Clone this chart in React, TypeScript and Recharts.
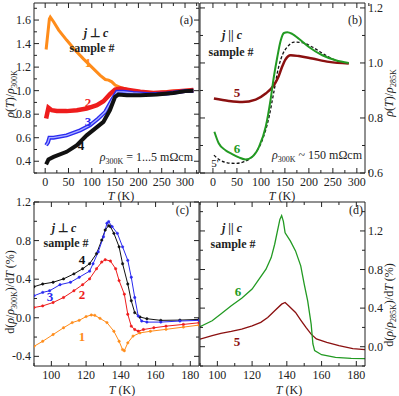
import React from 'react';
import { LineChart, Line, XAxis, YAxis } from 'recharts';

const W = 399;
const H = 396;
const FONT = '"Liberation Serif", "Times New Roman", serif';
const INK = '#222';

const ORANGE = '#ff8c1a';
const RED = '#ee1c1c';
const BLUE = '#2a2af0';
const BLACK = '#111111';
const GREEN = '#229a22';
const DARKRED = '#8b1010';

// (a) rho(T)/rho300K, j perp c
const aT1 = [2, 9, 11, 18, 29, 46, 64, 82, 100, 118, 129, 136, 143, 150, 161, 182, 204, 225, 246, 275, 300, 318];
const aR1 = [1.35, 1.61, 1.625, 1.586, 1.515, 1.43, 1.345, 1.27, 1.2, 1.13, 1.095, 1.09, 1.075, 1.047, 1.027, 1.004, 0.99, 0.984, 0.987, 0.996, 1.0, 1.005];
const aT2 = [2, 7, 14, 25, 46, 68, 89, 111, 125, 139, 150, 161, 182, 204, 232, 261, 300, 318];
const aR2 = [0.763, 0.855, 0.834, 0.828, 0.826, 0.834, 0.848, 0.877, 0.91, 0.97, 1.01, 1.018, 1.004, 0.99, 0.98, 0.987, 1.0, 1.005];
const aT3 = [2, 6, 9, 18, 46, 75, 96, 114, 129, 143, 154, 168, 189, 225, 261, 300, 318];
const aR3 = [0.536, 0.56, 0.6, 0.6, 0.62, 0.663, 0.706, 0.763, 0.82, 0.92, 0.99, 0.99, 0.98, 0.97, 0.976, 0.996, 1.0];
const aT4 = [2, 7, 18, 46, 68, 89, 111, 125, 139, 150, 157, 175, 204, 239, 275, 300, 318];
const aR4 = [0.374, 0.414, 0.437, 0.48, 0.536, 0.62, 0.69, 0.735, 0.834, 0.947, 0.967, 0.96, 0.96, 0.967, 0.98, 0.996, 1.0];

// (b) rho(T)/rho285K, j || c
const bT5 = [2, 33, 61, 89, 110, 127, 137, 144, 151, 162, 179, 207, 242, 283];
const bR5 = [0.871, 0.862, 0.858, 0.867, 0.889, 0.919, 0.952, 0.985, 1.012, 1.028, 1.025, 1.016, 1.004, 0.998];
const bT6 = [3, 12, 26, 40, 54, 68, 82, 96, 110, 120, 127, 134, 141, 148, 155, 165, 179, 200, 228, 256, 283];
const bR6 = [0.75, 0.708, 0.683, 0.669, 0.657, 0.649, 0.659, 0.695, 0.768, 0.865, 0.95, 1.02, 1.08, 1.109, 1.112, 1.106, 1.088, 1.058, 1.028, 1.01, 1.0];
const bT5p = [2, 12, 30, 47, 65, 85, 103, 117, 127, 137, 146, 155, 169, 186, 207, 235, 259, 283];
const bR5p = [0.665, 0.65, 0.637, 0.635, 0.641, 0.665, 0.72, 0.804, 0.895, 0.986, 1.034, 1.058, 1.076, 1.074, 1.058, 1.028, 1.007, 0.998];

// (c) d(rho/rho300K)/dT (%), j perp c
const cT1 = [90, 95, 101, 107, 112, 116, 120, 123, 125, 128, 132, 136, 139, 141, 142, 144, 147, 151, 157, 166, 176, 185];
const cD1 = [-0.296, -0.244, -0.174, -0.104, -0.05, -0.027, 0.012, 0.029, 0.025, -0.006, -0.05, -0.14, -0.244, -0.33, -0.342, -0.26, -0.19, -0.157, -0.14, -0.12, -0.097, -0.076];
const cT2 = [90, 95, 101, 107, 113, 118, 122, 126, 129, 131, 134, 137, 139, 142, 144, 146, 148, 150, 153, 159, 166, 176, 185];
const cD2 = [0.106, 0.123, 0.158, 0.21, 0.28, 0.343, 0.403, 0.508, 0.578, 0.602, 0.588, 0.508, 0.385, 0.245, 0.036, -0.087, -0.122, -0.139, -0.122, -0.104, -0.087, -0.069, -0.052];
const cT3 = [90, 95, 99, 105, 111, 116, 122, 124, 127, 130, 132, 133, 135, 138, 141, 144, 146, 148, 150, 152, 155, 163, 174, 185];
const cD3 = [0.228, 0.263, 0.28, 0.343, 0.368, 0.42, 0.483, 0.56, 0.683, 0.84, 0.98, 0.997, 0.945, 0.875, 0.735, 0.595, 0.42, 0.21, 0.018, -0.034, -0.045, -0.045, -0.034, -0.027];
const cT4 = [90, 95, 101, 107, 113, 118, 122, 126, 129, 131, 133, 134, 136, 139, 141, 144, 146, 148, 151, 155, 163, 174, 185];
const cD4 = [0.322, 0.35, 0.368, 0.403, 0.455, 0.508, 0.56, 0.665, 0.805, 0.91, 0.955, 0.945, 0.875, 0.735, 0.56, 0.35, 0.176, 0.053, 0.008, -0.01, -0.027, -0.024, -0.017];

// (d) d(rho/rho285K)/dT (%), j || c
const dT6 = [90, 97, 102, 108, 114, 120, 124, 128, 131, 133, 135, 136, 137, 138, 139, 142, 145, 148, 150, 152, 154, 155, 156, 160, 168, 177, 185];
const dD6 = [0.207, 0.269, 0.338, 0.424, 0.503, 0.597, 0.7, 0.803, 0.924, 1.062, 1.234, 1.32, 1.36, 1.3, 1.18, 1.097, 0.993, 0.838, 0.648, 0.476, 0.234, 0.028, -0.041, -0.083, -0.11, -0.121, -0.124];
const dT5 = [90, 97, 102, 108, 114, 120, 125, 129, 133, 137, 139, 141, 145, 148, 151, 154, 157, 163, 170, 178, 185];
const dD5 = [0.079, 0.114, 0.138, 0.159, 0.183, 0.217, 0.252, 0.303, 0.372, 0.441, 0.459, 0.424, 0.355, 0.276, 0.2, 0.13, 0.08, 0.045, 0.01, -0.02, -0.03];

// ticks
const aXTicks = [0, 25, 50, 75, 100, 125, 150, 175, 200, 225, 250, 275, 300, 325];
const aXLabels = [0, 50, 100, 150, 200, 250, 300];
const aYTicks = [0.3, 0.4, 0.5, 0.6, 0.7, 0.8, 0.9, 1.0, 1.1, 1.2, 1.3, 1.4, 1.5, 1.6, 1.7];
const aYLabels = [0.4, 0.6, 0.8, 1.0, 1.2, 1.4, 1.6];
const bYTicks = [0.6, 0.7, 0.8, 0.9, 1.0, 1.1, 1.2];
const bYLabels = [0.6, 0.8, 1.0, 1.2];
const cXTicks = [90, 100, 110, 120, 130, 140, 150, 160, 170, 180];
const cXLabels = [100, 120, 140, 160, 180];
const cYTicks = [-0.4, -0.2, 0.0, 0.2, 0.4, 0.6, 0.8, 1.0, 1.2];
const cYLabels = [-0.4, 0.0, 0.4, 0.8, 1.2];
const dYTicks = [-0.2, 0.0, 0.2, 0.4, 0.6, 0.8, 1.0, 1.2, 1.4];
const dYLabels = [0.0, 0.4, 0.8, 1.2];

const pts = (xs: number[], ys: number[]) => xs.map((x, i) => ({ x, y: ys[i] }));

type Box = { l: number; r: number; t: number; b: number };
type S = { data: { x: number; y: number }[]; color: string; width: number; dash?: string; dot?: number; type?: 'linear' | 'monotone' };

const tickText = { fontFamily: FONT, fontSize: 12, fill: INK };

function Panel(props: {
  box: Box; xDomain: number[]; yDomain: number[];
  xTicks: number[]; xLabels: number[]; yTicks: number[]; yLabels: number[];
  ySide: 'left' | 'right'; series: S[];
}) {
  const { box, xDomain, yDomain, xTicks, xLabels, yTicks, yLabels, ySide, series } = props;
  const has = (arr: number[], v: number) => arr.some((a) => Math.abs(a - v) < 1e-6);

  const xTick = (edge: number, dir: number, label: boolean) => (p: any) => {
    const v = p.payload.value;
    const major = has(xLabels, v);
    const len = major ? 5 : 3;
    return (
      <g>
        <line x1={p.x} x2={p.x} y1={edge} y2={edge - dir * len} stroke={INK} strokeWidth={1} />
        {label && major && (
          <text x={p.x} y={edge + 12.5} textAnchor="middle" {...tickText}>{String(v)}</text>
        )}
      </g>
    );
  };
  const yTick = (edge: number, dir: number, label: boolean) => (p: any) => {
    const v = p.payload.value;
    const major = has(yLabels, v);
    const len = major ? 5 : 3;
    return (
      <g>
        <line x1={edge} x2={edge + dir * len} y1={p.y} y2={p.y} stroke={INK} strokeWidth={1} />
        {label && major && (
          <text x={edge - dir * 3} y={p.y + 4} textAnchor={dir > 0 ? 'end' : 'start'} {...tickText}>
            {v.toFixed(1)}
          </text>
        )}
      </g>
    );
  };

  return (
    <div style={{ position: 'absolute', left: 0, top: 0 }}>
      <LineChart width={W} height={H} margin={{ top: 0, right: 0, bottom: 0, left: 0 }}>
        <XAxis xAxisId="b" type="number" dataKey="x" domain={xDomain} allowDataOverflow ticks={xTicks}
          interval={0} height={H - box.b} axisLine={{ stroke: INK }} tickLine={false} tick={xTick(box.b, 1, true)} />
        <XAxis xAxisId="t" orientation="top" type="number" dataKey="x" domain={xDomain} allowDataOverflow ticks={xTicks}
          interval={0} height={box.t} axisLine={{ stroke: INK }} tickLine={false} tick={xTick(box.t, -1, false)} />
        <YAxis yAxisId="l" type="number" domain={yDomain} allowDataOverflow ticks={yTicks} interval={0}
          width={box.l} axisLine={{ stroke: INK }} tickLine={false} tick={yTick(box.l, 1, ySide === 'left')} />
        <YAxis yAxisId="r" orientation="right" type="number" domain={yDomain} allowDataOverflow ticks={yTicks}
          interval={0} width={W - box.r} axisLine={{ stroke: INK }} tickLine={false} tick={yTick(box.r, -1, ySide === 'right')} />
        {series.map((s, i) => (
          <Line key={i} xAxisId="b" yAxisId="l" data={s.data} dataKey="y" type={s.type || 'monotone'}
            stroke={s.color} strokeWidth={s.width} strokeDasharray={s.dash}
            dot={s.dot ? { r: s.dot, fill: s.color, stroke: s.color, strokeWidth: 0.5 } : false}
            isAnimationActive={false} />
        ))}
      </LineChart>
    </div>
  );
}

const it = { fontStyle: 'italic' as const };

function Overlay() {
  const base = { fontFamily: FONT, fill: INK };
  const num = (x: number, y: number, c: string, t: string) => (
    <text x={x} y={y} textAnchor="middle" fontSize={13} fontWeight="bold" fill={c} fontFamily={FONT}>{t}</text>
  );
  return (
    <svg width={W} height={H} style={{ position: 'absolute', left: 0, top: 0, pointerEvents: 'none' }}>
      <g {...base} fontSize={12}>
        {/* axis titles */}
        <text x={121} y={199.5} textAnchor="middle"><tspan {...it}>T</tspan> (K)</text>
        <text x={282} y={199.5} textAnchor="middle"><tspan {...it}>T</tspan> (K)</text>
        <text x={122} y={393.5} textAnchor="middle"><tspan {...it}>T</tspan> (K)</text>
        <text x={289} y={393.5} textAnchor="middle"><tspan {...it}>T</tspan> (K)</text>

        <text transform="translate(14,94) rotate(-90)" textAnchor="middle">
          <tspan {...it}>ρ</tspan>(<tspan {...it}>T</tspan>)/<tspan {...it}>ρ</tspan>
          <tspan fontSize={8} dy={3}>300K</tspan>
        </text>
        <text transform="translate(14,292) rotate(-90)" textAnchor="middle">
          d(<tspan {...it}>ρ</tspan>/<tspan {...it}>ρ</tspan><tspan fontSize={8} dy={3}>300K</tspan>
          <tspan dy={-3}>)/d</tspan><tspan {...it}>T</tspan> (%)
        </text>
        <text transform="translate(393,93) rotate(-90)" textAnchor="middle">
          <tspan {...it}>ρ</tspan>(<tspan {...it}>T</tspan>)/<tspan {...it}>ρ</tspan>
          <tspan fontSize={8} dy={3}>285K</tspan>
        </text>
        <text transform="translate(393,305) rotate(-90)" textAnchor="middle">
          d(<tspan {...it}>ρ</tspan>/<tspan {...it}>ρ</tspan><tspan fontSize={8} dy={3}>285K</tspan>
          <tspan dy={-3}>)/d</tspan><tspan {...it}>T</tspan> (%)
        </text>

        {/* panel letters */}
        <text x={193} y={24} textAnchor="end">(a)</text>
        <text x={362} y={24} textAnchor="end">(b)</text>
        <text x={189} y={214} textAnchor="end">(c)</text>
        <text x={363} y={214} textAnchor="end">(d)</text>

        {/* headers */}
        <g fontWeight="bold">
          <text x={96} y={37} textAnchor="middle"><tspan {...it}>j</tspan> ⊥ <tspan {...it}>c</tspan></text>
          <text x={92} y={52} textAnchor="middle">sample #</text>
          <text x={232} y={39} textAnchor="middle"><tspan {...it}>j</tspan> || <tspan {...it}>c</tspan></text>
          <text x={231} y={56} textAnchor="middle">sample #</text>
          <text x={64} y={232} textAnchor="middle"><tspan {...it}>j</tspan> ⊥ <tspan {...it}>c</tspan></text>
          <text x={66} y={247} textAnchor="middle">sample #</text>
          <text x={232} y={232} textAnchor="middle"><tspan {...it}>j</tspan> || <tspan {...it}>c</tspan></text>
          <text x={233} y={248} textAnchor="middle">sample #</text>
        </g>

        <text x={193} y={161} textAnchor="end">
          <tspan {...it}>ρ</tspan><tspan fontSize={8} dy={3}>300K</tspan><tspan dy={-3}> = 1...5 mΩcm</tspan>
        </text>
        <text x={362} y={159} textAnchor="end">
          <tspan {...it}>ρ</tspan><tspan fontSize={8} dy={3}>300K</tspan><tspan dy={-3}> ~ 150 mΩcm</tspan>
        </text>
      </g>

      {num(88, 67, ORANGE, '1')}
      {num(88, 107, RED, '2')}
      {num(88, 126, BLUE, '3')}
      {num(81, 150, BLACK, '4')}
      {num(237, 97, DARKRED, '5')}
      {num(237, 153, GREEN, '6')}
      <text x={215} y={167} textAnchor="middle" fontSize={11} fill={BLACK} fontFamily={FONT}>5'</text>
      {num(82, 264, BLACK, '4')}
      {num(50, 301, BLUE, '3')}
      {num(82, 299, RED, '2')}
      {num(82, 341, ORANGE, '1')}
      {num(238, 296, GREEN, '6')}
      {num(237, 346, DARKRED, '5')}
    </svg>
  );
}

export default function App() {
  return (
    <div style={{ position: 'absolute', left: 0, top: 0, width: W, height: H, background: '#fff' }}>
      <Panel box={{ l: 34, r: 199, t: 3, b: 173 }} xDomain={[-24, 330]} yDomain={[0.3, 1.745]}
        xTicks={aXTicks} xLabels={aXLabels} yTicks={aYTicks} yLabels={aYLabels} ySide="left"
        series={[
          { data: pts(aT1, aR1), color: ORANGE, width: 3, type: 'linear' },
          { data: pts(aT2, aR2), color: RED, width: 4.5, type: 'linear' },
          { data: pts(aT3, aR3), color: BLUE, width: 4, type: 'linear' },
          { data: pts(aT3, aR3), color: '#a9b0ff', width: 1.3, type: 'linear' },
          { data: pts(aT4, aR4), color: BLACK, width: 4, type: 'linear' },
        ]} />
      <Panel box={{ l: 200, r: 365, t: 3, b: 173 }} xDomain={[-27, 317]} yDomain={[0.6, 1.218]}
        xTicks={aXTicks} xLabels={aXLabels} yTicks={bYTicks} yLabels={bYLabels} ySide="right"
        series={[
          { data: pts(bT5p, bR5p), color: BLACK, width: 1.3, dash: '3 2' },
          { data: pts(bT5, bR5), color: DARKRED, width: 2.5 },
          { data: pts(bT6, bR6), color: GREEN, width: 2 },
        ]} />
      <Panel box={{ l: 34, r: 199, t: 202, b: 366 }} xDomain={[90, 185]} yDomain={[-0.5, 1.2]}
        xTicks={cXTicks} xLabels={cXLabels} yTicks={cYTicks} yLabels={cYLabels} ySide="left"
        series={[
          { data: pts(cT1, cD1), color: ORANGE, width: 1, dot: 1.2, type: 'linear' },
          { data: pts(cT2, cD2), color: RED, width: 1, dot: 1.2, type: 'linear' },
          { data: pts(cT4, cD4), color: BLACK, width: 1, dot: 1.2, type: 'linear' },
          { data: pts(cT3, cD3), color: BLUE, width: 1, dot: 1.2, type: 'linear' },
        ]} />
      <Panel box={{ l: 200, r: 365, t: 202, b: 366 }} xDomain={[90, 185]} yDomain={[-0.2, 1.5]}
        xTicks={cXTicks} xLabels={cXLabels} yTicks={dYTicks} yLabels={dYLabels} ySide="right"
        series={[
          { data: pts(dT5, dD5), color: DARKRED, width: 1.3, type: 'linear' },
          { data: pts(dT6, dD6), color: GREEN, width: 1.3, type: 'linear' },
        ]} />
      <Overlay />
    </div>
  );
}
